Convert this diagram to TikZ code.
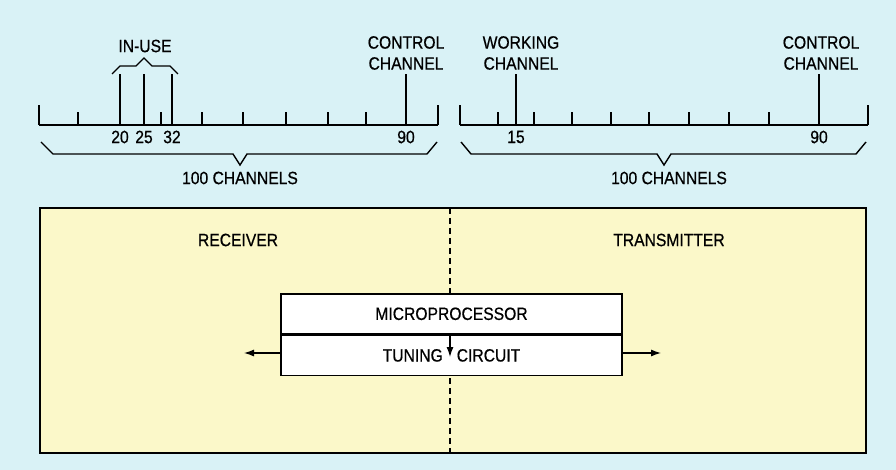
\documentclass[tikz,border=0pt]{standalone}
\usepackage{fontspec}
\setmainfont{Liberation Sans}[FakeStretch=0.88, FakeBold=0.6]
\usepackage{xcolor}
\usetikzlibrary{arrows.meta}
\definecolor{sky}{HTML}{D9F2F6}
\definecolor{pad}{HTML}{FBF8C9}

\tikzset{
    axis/.style={line width=2pt},
    tick/.style={line width=1.5pt},
    brace/.style={line width=1.4pt, line join=miter},
    lbl/.style={font=\fontsize{17.8}{21}\selectfont, inner sep=0pt, align=center},
    block/.style={draw, fill=white, line width=1.6pt, minimum width=341pt,
        minimum height=40pt, inner sep=0pt, font=\fontsize{17.8}{21}\selectfont}
}

\begin{document}
\begin{tikzpicture}[x=1pt, y=-1pt, >={Latex[length=10pt,width=7pt]}]
\fill[sky] (0,0) rectangle (896,470);
\useasboundingbox (0,0) rectangle (896,470);
%====================================================
% LEFT SCALE
%====================================================
\draw[axis] (39,125) -- (438,125);
\foreach \x in {39,438}
{
    \draw[tick] (\x,125) -- (\x,105);
}
\foreach \x in {78,161,202,243,286,328,366}
{
    \draw[tick] (\x,125) -- (\x,112);
}
\foreach \x/\ch in {120/20,144/25,172/32,406/90}
{
    \draw[tick] (\x,125) -- (\x,74);
    \node[lbl] (l\ch) at (\x,137) {\ch};
}
\draw[brace] (112,74) -- (120,66) -- (136,66) -- (144,58) -- (152,66) -- (170,66) -- (178,74);
\node[lbl] (inuse) at (145,46) {IN-USE};
\node[lbl] (lctrl) at (406,53) {CONTROL\\CHANNEL};
\draw[brace] (41,142) -- (53,154) -- (233,154) -- (240,165) -- (247,154) -- (427,154) -- (437,142);
\node[lbl] (lcount) at (240,178) {100 CHANNELS};

%====================================================
% RIGHT SCALE
%====================================================
\draw[axis] (460,125) -- (868,125);
\foreach \x in {460,868}
{
    \draw[tick] (\x,125) -- (\x,105);
}
\foreach \x in {498,534,572,611,649,689,729,769}
{
    \draw[tick] (\x,125) -- (\x,112);
}
\foreach \x/\ch in {516/15,819/90}
{
    \draw[tick] (\x,125) -- (\x,74);
    \node[lbl] (r\ch) at (\x,137) {\ch};
}
\node[lbl] (rwork) at (521,53) {WORKING\\CHANNEL};
\node[lbl] (rctrl) at (821,53) {CONTROL\\CHANNEL};
\draw[brace] (461,142) -- (471,154) -- (657,154) -- (664,165) -- (671,154) -- (856,154) -- (866,142);
\node[lbl] (rcount) at (669,178) {100 CHANNELS};

%====================================================
% RADIO
%====================================================
\draw[fill=pad, line width=1.8pt] (40,208) rectangle (866,453);
\draw[dashed, line width=1.2pt, dash pattern=on 6pt off 4pt] (450,208) -- (450,453);
\node[lbl] (rx) at (238,240) {RECEIVER};
\node[lbl] (tx) at (669,240) {TRANSMITTER};
\node[block, anchor=north] (micro) at (451.5,293) {MICROPROCESSOR};
\node[block, anchor=north] (tune) at (micro.south) {TUNING\hspace{14pt}CIRCUIT};
\coordinate (tunedn) at (450,357);
\coordinate (rxend) at (244,353);
\coordinate (txend) at (661,353);
\draw[->, line width=1.2pt] (micro.south -| tunedn) -- (tunedn);
\draw[->, line width=1.2pt] (tune.west |- rxend) -- (rxend);
\draw[->, line width=1.2pt] (tune.east |- txend) -- (txend);
\end{tikzpicture}
\end{document}
